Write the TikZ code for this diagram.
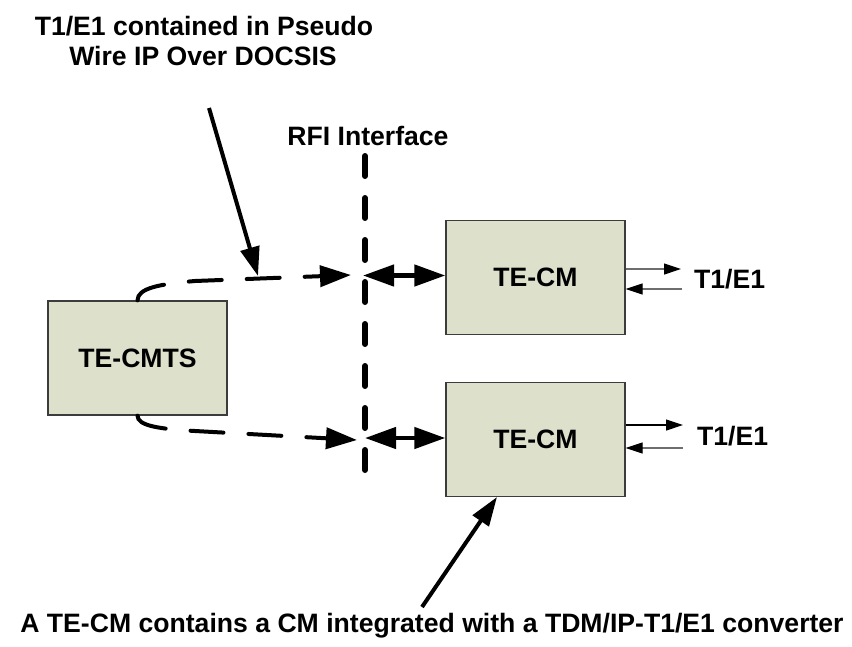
\documentclass[tikz,border=0pt]{standalone}
\usepackage{fontspec}
\setmainfont{Liberation Sans}
\usetikzlibrary{arrows.meta}
\definecolor{boxfill}{RGB}{221,224,203}
\definecolor{boxline}{RGB}{60,60,60}
\definecolor{thinline}{RGB}{110,110,110}
\begin{document}
\begin{tikzpicture}[x=1pt,y=-1pt,
  lbl/.style={font=\fontsize{26.6}{30}\selectfont\bfseries, inner sep=0pt},
  unit/.style={draw=boxline, line width=1.3pt, fill=boxfill, inner sep=0pt,
    minimum width=179pt, minimum height=114pt, font=\fontsize{26.6}{30}\selectfont\bfseries},
  bigtip/.style={-{Triangle[length=31pt,width=21pt]}},
  dashcurve/.style={line width=4pt, line cap=round, dash pattern=on 33pt off 25pt, bigtip},
  rfi/.style={line width=6pt, line cap=round, dash pattern=on 20pt off 22pt},
  dbl/.style={line width=4.5pt, {Triangle[length=31pt,width=21pt]}-{Triangle[length=31pt,width=21pt]}},
  pointer/.style={line width=4pt, -{Triangle[length=29pt,width=19pt]}},
  small/.style={line width=1.2pt, draw=thinline, -{Triangle[length=17pt,width=11pt,color=black]}}
]
\useasboundingbox (0,0) rectangle (852,646);

% texts
\node[lbl, anchor=base] (title1) at (204,35) {T1/E1 contained in Pseudo};
\node[lbl, anchor=base] (title2) at (203,65) {Wire IP Over DOCSIS};
\node[lbl, anchor=base] (rfilabel) at (368,145) {RFI Interface};
\node[lbl, anchor=base] (note) at (432,632) {A TE-CM contains a CM integrated with a TDM/IP-T1/E1 converter};

% boxes
\node[unit] (cmts) at (137.5,358) {TE-CMTS};
\node[unit] (cm1) at (535.5,277.5) {TE-CM};
\node[unit] (cm2) at (535.5,439.5) {TE-CM};

% RFI interface line
\coordinate (rfitop) at (365,156);
\coordinate (rfibot) at (365,470);
\draw[rfi] (rfitop) -- (rfibot);

% dashed links
\coordinate (tipA) at (351,275);
\coordinate (tipB) at (357,440);
\draw[dashcurve] (cmts.north) .. controls (137.5,288) and (160,284) .. (195,281) -- (tipA);
\draw[dashcurve] (cmts.south) .. controls (137.5,426) and (160,429) .. (195,431) -- (tipB);

% double arrows
\coordinate (rfiA) at (363,275.5);
\coordinate (rfiB) at (365,438);
\draw[dbl] (rfiA) -- (rfiA -| cm1.west);
\draw[dbl] (rfiB) -- (rfiB -| cm2.west);

% T1/E1 ports
\node[lbl, anchor=base west] (t1a) at (694,288) {T1/E1};
\node[lbl, anchor=base west] (t1b) at (697,445) {T1/E1};
\coordinate (oA) at (681,269);
\coordinate (iA) at (682,289);
\coordinate (oB) at (683,425);
\coordinate (iB) at (683,448);
\draw[small] (cm1.east |- oA) -- (oA);
\draw[small] (iA) -- (cm1.east |- iA);
\draw[small, draw=black] (cm2.east |- oB) -- (oB);
\draw[small] (iB) -- (cm2.east |- iB);

% pointers
\coordinate (p1s) at (209,108);
\coordinate (p1t) at (258,276);
\draw[pointer] (p1s) -- (p1t);
\coordinate (p2s) at (422,607);
\coordinate (p2t) at (497,497);
\draw[pointer] (p2s) -- (p2t);
\end{tikzpicture}
\end{document}
